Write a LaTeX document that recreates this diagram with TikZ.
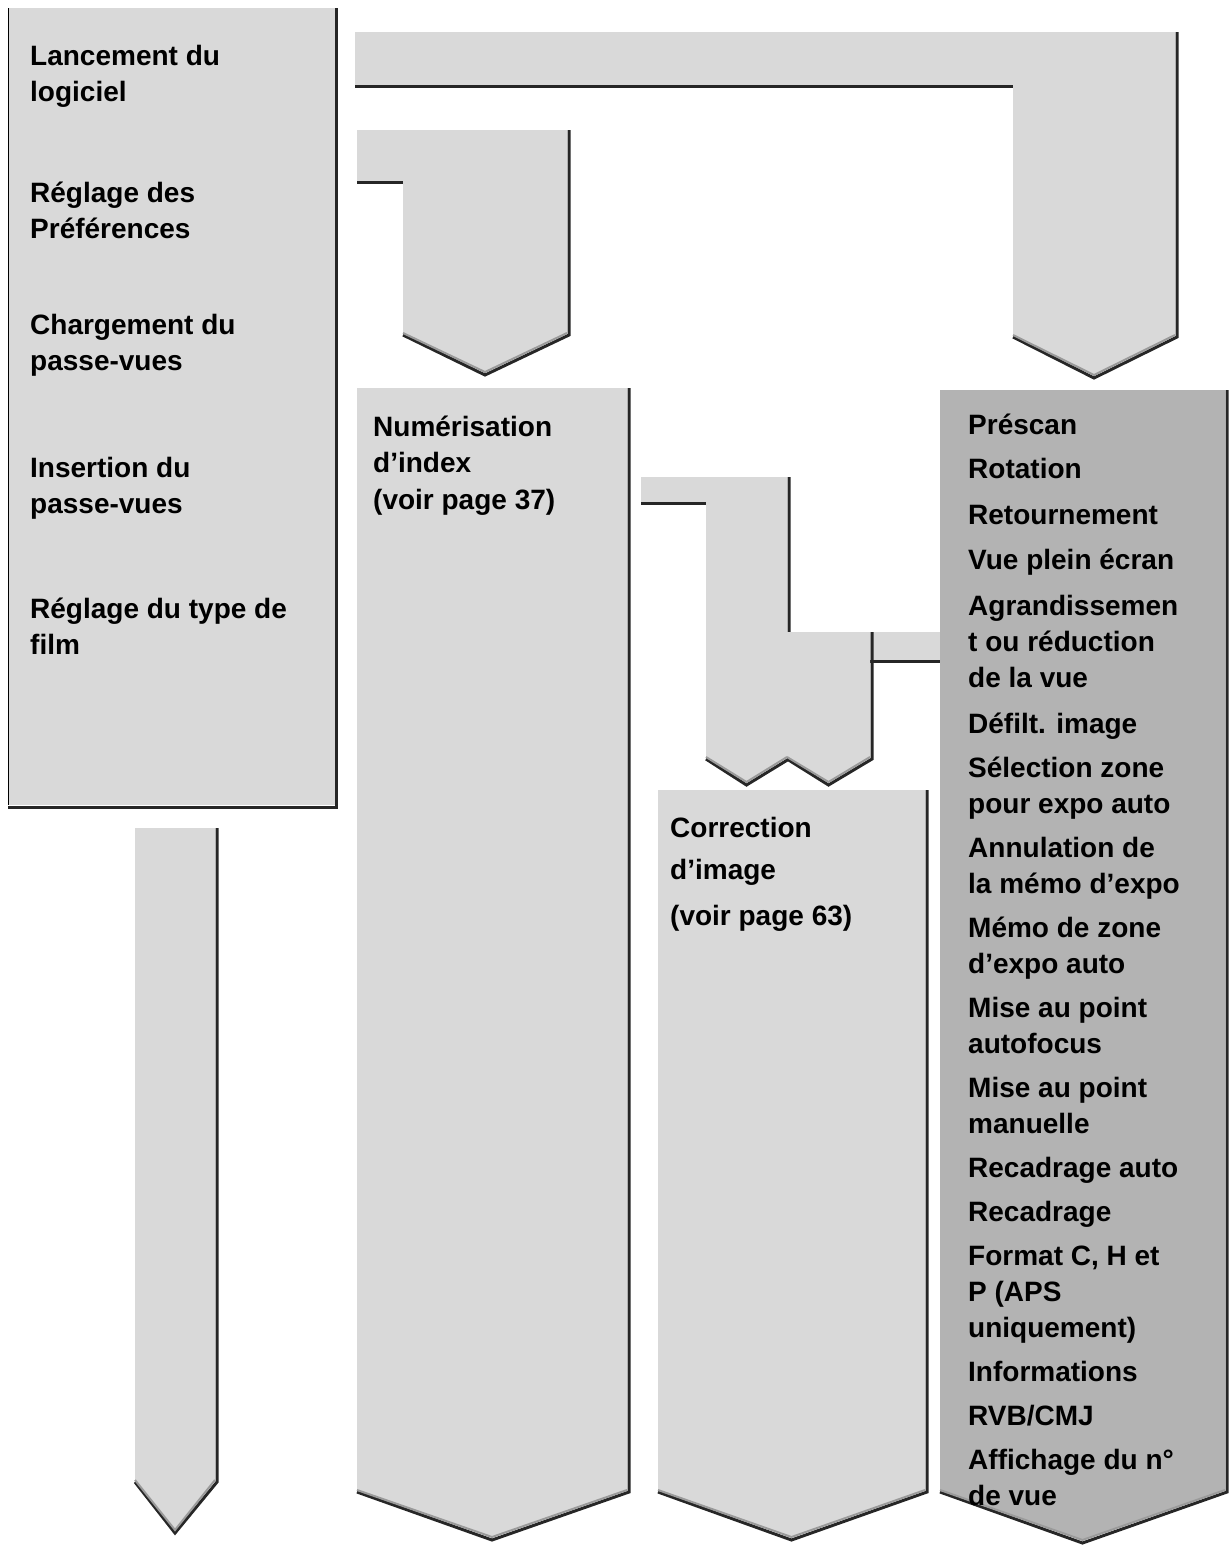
\documentclass[tikz,border=0pt]{standalone}
\usepackage{fontspec}
\setmainfont{Liberation Sans}
\definecolor{boxgray}{HTML}{D9D9D9}
\definecolor{darkgray}{HTML}{B3B3B3}
\definecolor{edgegray}{HTML}{9A9A9A}
% arrow body: {left}{right}{top}{bottom of sides}{tip}{fill}
\newcommand{\flowarrow}[6]{%
  \fill[#6] (#1,#3) -- (#2,#3) -- (#2,#4) -- ({(#1+#2)/2},#5) -- (#1,#4) -- cycle;
  \draw[shadowline] (#2+2,#3) -- (#2+2,#4+2) -- ({(#1+#2)/2},#5+3) -- (#1,#4+2);
  \draw[glint] (#2,#4) -- ({(#1+#2)/2},#5) -- (#1,#4);
}
\begin{document}
\begin{tikzpicture}[
	x = 1pt, y = -1pt, % pixel grid
	shadowline/.style = {black!85, line width=3pt},
	glint/.style = {edgegray, line width=2pt},
	label/.style = {anchor=north west, inner sep=0pt, align=left, font=\bfseries\fontsize{28}{36}\selectfont}
	]
	\useasboundingbox (0,0) rectangle (1229,1545);
	
	% left column
	\fill[boxgray] (8,8) rectangle (335,805);
	\draw[shadowline] (336,8) -- (336,807) -- (8,807);
	\draw[black, line width=1pt] (8,8) -- (8,805);
	\node[label] (start) at (30,45) {Lancement du\\logiciel};
	\node[label] (prefs) at (30,182) {Réglage des\\Préférences};
	\node[label] (load) at (30,314) {Chargement du\\passe-vues};
	\node[label] (insert) at (30,457) {Insertion du\\passe-vues};
	\node[label] (film) at (30,598) {Réglage du type de\\film};
	\flowarrow{135}{215}{828}{1480}{1530}{boxgray}
	
	% top connectors
	\fill[boxgray] (355,32) rectangle (1013,85);
	\draw[shadowline] (355,86) -- (1013,86);
	\flowarrow{1013}{1175}{32}{335}{375}{boxgray}
	\fill[boxgray] (357,130) rectangle (403,181);
	\draw[shadowline] (357,182) -- (403,182);
	\flowarrow{403}{567}{130}{333}{372}{boxgray}
	
	% index scan
	\flowarrow{357}{627}{388}{1490}{1537}{boxgray}
	\node[label] (index) at (373,416) {Numérisation\\d’index\\[1pt](voir page 37)};
	
	% correction connectors
	\fill[boxgray] (641,477) rectangle (706,502);
	\draw[shadowline] (641,503) -- (706,503);
	\flowarrow{706}{787}{477}{757}{782}{boxgray}
	\fill[boxgray] (870,632) rectangle (942,660);
	\draw[shadowline] (870,661) -- (942,661);
	\flowarrow{787}{870}{632}{757}{782}{boxgray}
	
	% image correction
	\flowarrow{658}{925}{790}{1490}{1537}{boxgray}
	\node[label] (correct) at (670,817) {Correction\\[6pt] d’image\\[10pt](voir page 63)};
	
	% prescan window
	\flowarrow{940}{1225}{390}{1490}{1540}{darkgray}
	\node[label] (prescan) at (968,414) {Préscan\\[8pt]Rotation\\[10pt]Retournement\\[9pt]Vue plein écran\\[10pt]Agrandissemen\\t ou réduction\\de la vue\\[10pt]Défilt. image\\[8pt]Sélection zone\\pour expo auto\\[8pt]Annulation de\\la mémo d’expo\\[8pt]Mémo de zone\\d’expo auto\\[8pt]Mise au point\\autofocus\\[8pt]Mise au point\\manuelle\\[8pt]Recadrage auto\\[8pt]Recadrage\\[8pt]Format C, H et\\P (APS\\uniquement)\\[8pt]Informations\\[8pt]RVB/CMJ\\[8pt]Affichage du n°\\de vue};
\end{tikzpicture}
\end{document}
